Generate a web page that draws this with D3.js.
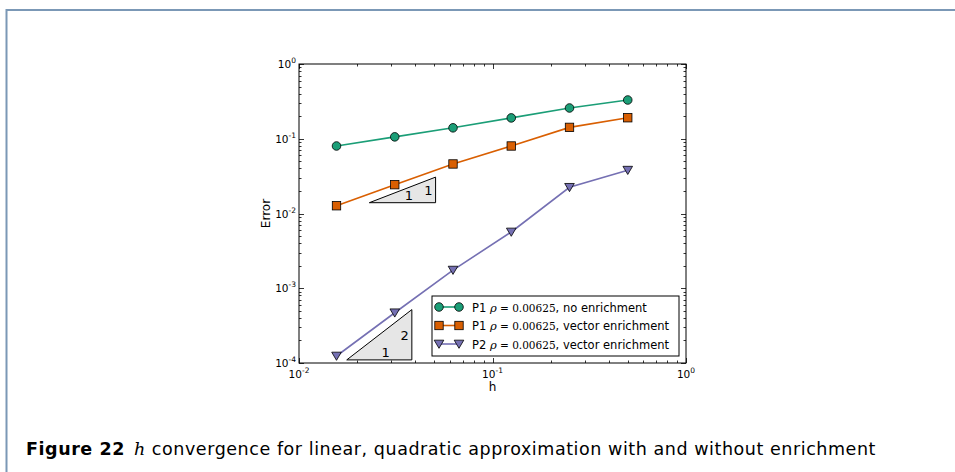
<!DOCTYPE html>
<html>
<head>
<meta charset="utf-8">
<script src="https://cdn.jsdelivr.net/npm/d3@7"></script>
<style>
  html, body { margin: 0; padding: 0; background: #fff; }
  svg { display: block; }
  text { font-family: "DejaVu Sans", sans-serif; fill: #000; }
  .math { font-family: "DejaVu Serif", "Liberation Serif", serif; }
</style>
</head>
<body>
<svg id="chart" width="955" height="472"></svg>
<script>
// mesh sizes h and the error of each method
const hValues = [1 / 64, 1 / 32, 1 / 16, 1 / 8, 1 / 4, 1 / 2];
const errNoEnrich = [0.080, 0.106, 0.140, 0.190, 0.258, 0.330];
const errP1Vector = [0.0127, 0.0243, 0.046, 0.080, 0.142, 0.191];
const errP2Vector = [0.000124, 0.00047, 0.00175, 0.00566, 0.0224, 0.038];

const seriesNames = [
  ["P1 ", "ρ", " = 0.00625", ", no enrichment"],
  ["P1 ", "ρ", " = 0.00625", ", vector enrichment"],
  ["P2 ", "ρ", " = 0.00625", ", vector enrichment"],
];
const seriesColors = ["#1b9e77", "#d95f02", "#7570b3"];
const seriesMarkers = ["circle", "square", "triangle"];

// slope triangles, in data coords: [x0, x1, yBottom, slope], plus their labels
const slopeTriangles = [
  { x0: 0.0231, x1: 0.0508, y0: 0.01395, slope: 1, run: "1", rise: "1" },
  { x0: 0.01765, x1: 0.0383, y0: 0.000110, slope: 2, run: "1", rise: "2" },
];

const xDomain = [1e-2, 1e0];
const yDomain = [1e-4, 1e0];

const svg = d3.select("#chart");

// page frame (top + left rule)
svg.append("line").attr("x1", 6).attr("x2", 955).attr("y1", 10).attr("y2", 10)
  .attr("stroke", "#7b98b6").attr("stroke-width", 2);
svg.append("line").attr("x1", 6.5).attr("x2", 6.5).attr("y1", 9).attr("y2", 472)
  .attr("stroke", "#7b98b6").attr("stroke-width", 2);

const plot = { left: 299, right: 686, top: 64, bottom: 363 };
const x = d3.scaleLog().domain(xDomain).range([plot.left, plot.right]);
const y = d3.scaleLog().domain(yDomain).range([plot.bottom, plot.top]);

const g = svg.append("g");

// slope triangles (drawn under the data)
slopeTriangles.forEach((t) => {
  const y1 = t.y0 * Math.pow(t.x1 / t.x0, t.slope);
  const pts = [[t.x0, t.y0], [t.x1, t.y0], [t.x1, y1]];
  g.append("path")
    .attr("d", d3.line().x((d) => x(d[0])).y((d) => y(d[1]))(pts) + "Z")
    .attr("fill", "#e6e6e6").attr("stroke", "#000").attr("stroke-width", 1);
  const xm = Math.sqrt(t.x0 * t.x1) * 1.08;
  g.append("text").attr("x", x(xm)).attr("y", y(t.y0) - 3)
    .attr("text-anchor", "middle").attr("font-size", 13).text(t.run);
  g.append("text").attr("x", x(t.x1) - 3).attr("y", y(Math.sqrt(t.y0 * y1)) + 5)
    .attr("text-anchor", "end").attr("font-size", 13).text(t.rise);
});

// axes box
g.append("rect").attr("x", plot.left).attr("y", plot.top)
  .attr("width", plot.right - plot.left).attr("height", plot.bottom - plot.top)
  .attr("fill", "none").attr("stroke", "#000").attr("stroke-width", 1);

// inward ticks on all four sides
const isMajor = (v) => Math.abs(Math.log10(v) - Math.round(Math.log10(v))) < 1e-9;
const ticks = g.append("g").attr("stroke", "#000").attr("stroke-width", 0.8);
x.ticks().forEach((v) => {
  const len = isMajor(v) ? 5 : 2.5;
  const px = Math.round(x(v)) + 0.5;
  ticks.append("line").attr("x1", px).attr("x2", px).attr("y1", plot.bottom).attr("y2", plot.bottom - len);
  ticks.append("line").attr("x1", px).attr("x2", px).attr("y1", plot.top).attr("y2", plot.top + len);
});
y.ticks().forEach((v) => {
  const len = isMajor(v) ? 5 : 2.5;
  const py = Math.round(y(v)) + 0.5;
  ticks.append("line").attr("y1", py).attr("y2", py).attr("x1", plot.left).attr("x2", plot.left + len);
  ticks.append("line").attr("y1", py).attr("y2", py).attr("x1", plot.right).attr("x2", plot.right - len);
});

// tick labels: 10^k
function powLabel(sel, k) {
  sel.append("tspan").text("10");
  sel.append("tspan").attr("dy", -5).attr("font-size", 7.5).text(k);
}
x.ticks().filter(isMajor).forEach((v) => {
  const t = g.append("text").attr("x", x(v)).attr("y", plot.bottom + 15)
    .attr("text-anchor", "middle").attr("font-size", 10.5);
  powLabel(t, Math.round(Math.log10(v)));
});
y.ticks().filter(isMajor).forEach((v) => {
  const t = g.append("text").attr("x", plot.left - 3).attr("y", y(v) + 4)
    .attr("text-anchor", "end").attr("font-size", 10.5);
  powLabel(t, Math.round(Math.log10(v)));
});

// axis titles
g.append("text").attr("x", (plot.left + plot.right) / 2).attr("y", 391)
  .attr("text-anchor", "middle").attr("font-size", 12).text("h");
g.append("text").attr("transform", `translate(270,${(plot.top + plot.bottom) / 2}) rotate(-90)`)
  .attr("text-anchor", "middle").attr("font-size", 12).text("Error");

// markers
const triPath = (s) => `M${-s},${-s * 0.8}L${s},${-s * 0.8}L0,${s * 0.9}Z`;
function marker(sel, kind, color) {
  if (kind === "circle") return sel.append("circle").attr("r", 4.3)
    .attr("fill", color).attr("stroke", "#000").attr("stroke-width", 0.8);
  if (kind === "square") return sel.append("rect").attr("x", -4.2).attr("y", -4.2)
    .attr("width", 8.4).attr("height", 8.4)
    .attr("fill", color).attr("stroke", "#000").attr("stroke-width", 0.8);
  return sel.append("path").attr("d", triPath(4.8))
    .attr("fill", color).attr("stroke", "#000").attr("stroke-width", 0.8);
}

const allSeries = [errNoEnrich, errP1Vector, errP2Vector];
const line = d3.line().x((d) => x(d[0])).y((d) => y(d[1]));
allSeries.forEach((errs, i) => {
  const pts = hValues.map((h, j) => [h, errs[j]]);
  g.append("path").attr("d", line(pts)).attr("fill", "none")
    .attr("stroke", seriesColors[i]).attr("stroke-width", 1.6);
  pts.forEach((p) => {
    const m = g.append("g").attr("transform", `translate(${x(p[0])},${y(p[1])})`);
    marker(m, seriesMarkers[i], seriesColors[i]);
  });
});

// legend
const leg = g.append("g").attr("transform", "translate(432,296)");
leg.append("rect").attr("width", 247).attr("height", 60)
  .attr("fill", "#fff").attr("stroke", "#000").attr("stroke-width", 1);
seriesNames.forEach((parts, i) => {
  const cy = 11 + i * 18.5;
  leg.append("line").attr("x1", 7).attr("x2", 27).attr("y1", cy).attr("y2", cy)
    .attr("stroke", seriesColors[i]).attr("stroke-width", 1.6);
  [7, 27].forEach((mx) => {
    const m = leg.append("g").attr("transform", `translate(${mx},${cy})`);
    marker(m, seriesMarkers[i], seriesColors[i]);
  });
  const t = leg.append("text").attr("x", 40).attr("y", cy + 4.5).attr("font-size", 11.5);
  t.append("tspan").text(parts[0]);
  t.append("tspan").attr("class", "math").attr("font-style", "italic").text(parts[1]);
  t.append("tspan").attr("class", "math").attr("font-size", 10.5).text(parts[2]);
  t.append("tspan").text(parts[3]);
});

// caption, stretched to the reference width
const cap = svg.append("text").attr("x", 26).attr("y", 455).attr("font-size", 17.5)
  .attr("font-family", "'Open Sans', 'DejaVu Sans', sans-serif");
cap.append("tspan").attr("font-weight", "bold").text("Figure 22");
cap.append("tspan").attr("class", "math").attr("font-style", "italic").attr("dx", 9).text("h");
cap.append("tspan").text(" convergence for linear, quadratic approximation with and without enrichment");
const capW = cap.node().getComputedTextLength();
const nChars = cap.text().length;
cap.attr("letter-spacing", Math.max(0, (841 - capW) / nChars));
</script>
</body>
</html>
